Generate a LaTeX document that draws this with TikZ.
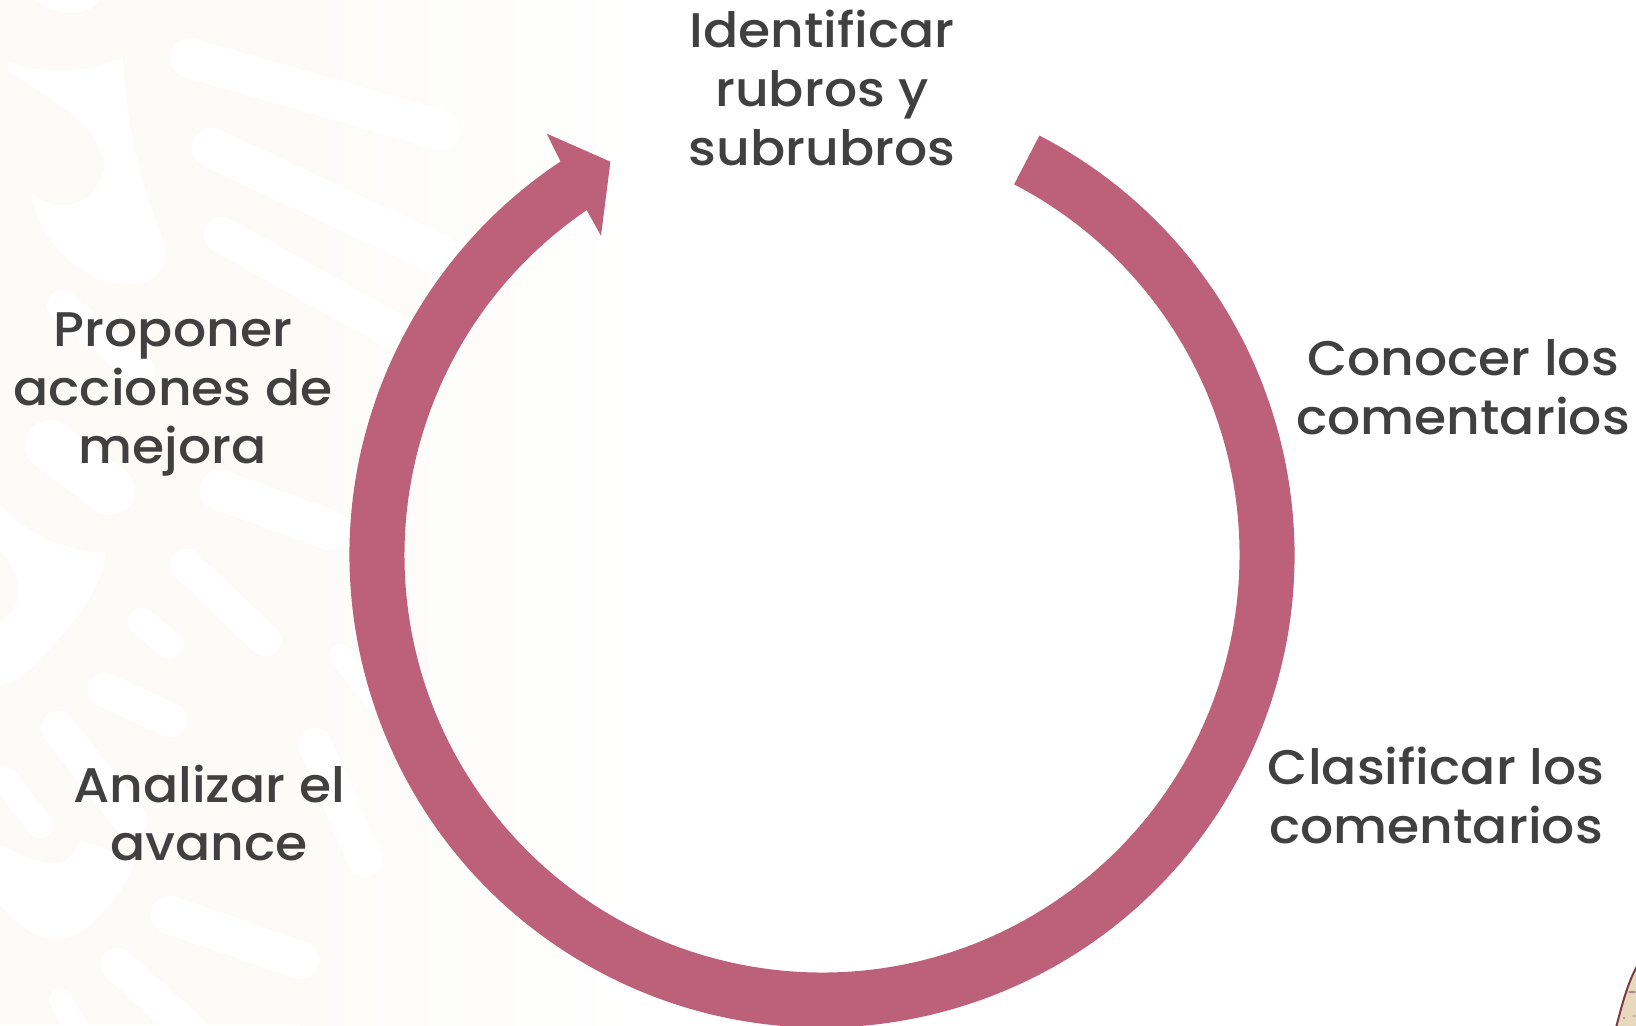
\documentclass[tikz,border=0pt]{standalone}
\usepackage{fontspec}
\setmainfont{Poppins}[UprightFont={* Medium},FakeStretch=1.07]
\definecolor{ring}{HTML}{BD617B}
\definecolor{ink}{HTML}{404040}
\definecolor{pale}{HTML}{FCFBF8}
\definecolor{skin}{HTML}{E9D9BC}
\definecolor{maroon}{HTML}{7A3A4A}
\tikzset{
  lbl/.style={align=center,text=ink,font=\fontsize{24.3}{29.4}\selectfont,inner sep=0pt},
  wm/.style={draw=white,line cap=round,line join=round,line width=#1*0.5pt},
}
\begin{document}
\begin{tikzpicture}[x=0.5pt,y=-0.5pt]
\useasboundingbox (0,0) rectangle (1636,1025);
\fill[white] (0,0) rectangle (1636,1025);
\fill[pale] (0,0) rectangle (300,1025);
\shade[left color=pale,right color=white] (300,0) rectangle (640,1025);
% watermark: white forms on the pale field
\fill[white] (7,62) .. controls (30,70) and (80,78) .. (123,57) .. controls (125,110) and (135,170) .. (165,245)
  .. controls (170,285) and (130,290) .. (100,280) .. controls (70,265) and (35,235) .. (32,193)
  .. controls (50,210) and (90,215) .. (104,170) .. controls (105,130) and (60,105) .. (10,72) -- cycle;
\fill[white] (35,0) .. controls (55,15) and (85,20) .. (100,0) -- cycle;
\fill[white] (0,505) .. controls (30,535) and (60,550) .. (105,553) .. controls (105,590) and (60,640) .. (30,670)
  .. controls (20,680) and (10,683) .. (0,685) -- (0,622) .. controls (20,610) and (30,585) .. (0,550) -- cycle;
\fill[white] (0,905) .. controls (30,940) and (60,950) .. (90,925) .. controls (110,905) and (125,890) .. (135,860)
  -- (80,840) .. controls (70,870) and (50,870) .. (0,845) -- cycle;
\draw[wm=40] (190,58) -- (440,130);
\draw[wm=40] (212,148) -- (440,255);
\draw[wm=36] (222,235) -- (410,340);
\draw[wm=30] (62,305) -- (140,370);
\draw[wm=50] (50,445) -- (110,490);
\draw[wm=40] (220,490) -- (330,530);
\draw[wm=32] (186,565) -- (265,640);
\draw[wm=28] (142,622) -- (170,645);
\draw[wm=34] (105,690) -- (170,720);
\draw[wm=34] (58,728) -- (130,820);
\draw[wm=26] (5,780) -- (40,825);
\draw[wm=38] (170,915) -- (300,960);
\draw[wm=34] (118,965) -- (190,1030);
\draw[wm=22] (60,1000) -- (78,1030);
\draw[wm=34] (315,745) -- (365,860);
\draw[wm=22] (340,655) -- (375,700);
% ring arrow
\coordinate (ostart) at ([shift={(822,555)}]-62.6:472.5);
\coordinate (barbA) at (546.7,133.6);
\coordinate (tip) at (610.4,161.7);
\coordinate (barbB) at (601,235.8);
\coordinate (ijoint) at ([shift={(822,555)}]235.7:417.5);
\fill[ring] (ostart) arc[start angle=-62.6,end angle=236.4,radius=472.5]
  -- (barbA) -- (tip) -- (barbB) -- (ijoint)
  arc[start angle=235.7,end angle=-62.6,radius=417.5] -- cycle;
% labels
\node[lbl] (n1) at (822,88) {Identificar\\rubros y\\subrubros};
\node[lbl] (n2) at (1463,387) {Conocer los\\comentarios};
\node[lbl] (n3) at (1436,795.5) {Clasificar los\\comentarios};
\node[lbl] (n4) at (209,813) {Analizar el\\avance};
\node[lbl] (n5) at (173,394.5) {Proponer\\acciones de\\mejora};
% corner of the illustration
\filldraw[fill=skin,draw=maroon,line width=1pt] (1640,962) .. controls (1632,972) and (1624,995) .. (1615.5,1030) -- (1640,1030) -- cycle;
\fill[maroon!60] (1632,992) ellipse[x radius=4,y radius=1.2];
\fill[maroon!60] (1624,1018) circle[radius=1.2];
\fill[maroon!60] (1634,1016) circle[radius=1];
\end{tikzpicture}
\end{document}
